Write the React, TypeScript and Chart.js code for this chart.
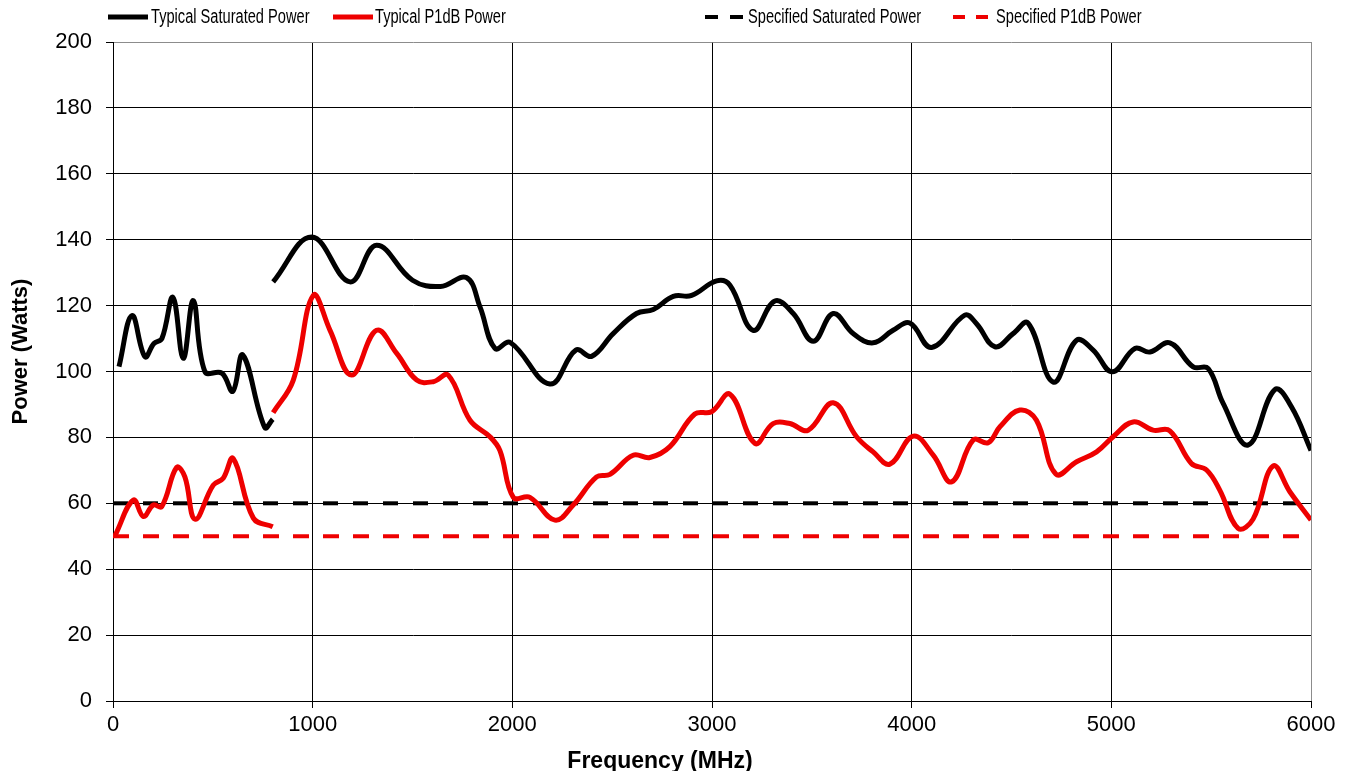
import React, { useEffect, useRef } from "react";
import { Chart, registerables } from "chart.js";

Chart.register(...registerables);

// ---------------- data ----------------
const satFreq = [
  30, 95, 160, 205, 245, 300, 352, 402, 460, 545, 600, 650, 760, 800,
  801,
  802, 995, 1187, 1320, 1500, 1640, 1770, 1838, 1913, 1990, 2188, 2318, 2397,
  2505, 2622, 2706, 2806, 2898, 3023, 3090, 3206, 3315, 3407, 3507, 3607, 3707,
  3807, 3907, 3991, 4100, 4266, 4325, 4417, 4508, 4583, 4709, 4826, 4909, 5005,
  5118, 5193, 5293, 5410, 5485, 5560, 5685, 5819, 5902, 6000,
];
const satPower = [
  101.5, 117, 104.5, 108.5, 110, 122.5, 104, 121.5, 100, 99.5, 94, 105, 83, 85.5,
  null,
  127.2, 140.8, 127.2, 138.3, 127.7, 125.8, 128.5, 119.6, 107, 108.8, 96.2, 106.5, 104.6,
  111.5, 117.6, 118.8, 122.8, 123.1, 127.5, 126.2, 112.5, 121.4, 117.6, 109.2, 117.6, 111.5,
  108.7, 112.5, 114.7, 107.3, 117.1, 114.5, 107.5, 111.5, 114.7, 96.8, 109.5, 106.5, 99.9,
  107, 105.9, 108.7, 101.4, 100.9, 90.3, 77.7, 94.5, 89.3, 76,
];

const p1dbFreq = [
  10, 102, 152, 202, 244, 319, 360, 411, 502, 552, 602, 703, 800,
  801,
  802, 903, 1003, 1087, 1195, 1320, 1421, 1521, 1604, 1679, 1788, 1888, 1938, 2005,
  2088, 2213, 2305, 2422, 2489, 2605, 2689, 2789, 2914, 2998, 3090, 3215, 3306, 3390,
  3482, 3607, 3724, 3807, 3891, 4008, 4108, 4200, 4308, 4383, 4442, 4542, 4625, 4722,
  4826, 4926, 5009, 5109, 5209, 5293, 5401, 5477, 5543, 5635, 5710, 5810, 5894, 6000,
];
const p1dbPower = [
  50.2, 61, 56, 59.5, 59, 70.9, 68, 55.2, 65.5, 67.6, 73.6, 55.5, 52.9,
  null,
  87.5, 97.4, 123.1, 112.5, 98.9, 112.5, 105.5, 97.4, 96.9, 98.9, 85.2, 80.2, 76, 61.8,
  61.8, 54.9, 59.5, 68, 68.8, 74.6, 73.9, 77.2, 87.1, 87.8, 93.1, 78.2, 84.2, 84.2,
  82.2, 90.5, 80.2, 75.6, 71.9, 80.4, 74.6, 66.5, 79.2, 78.4, 83.2, 88.3, 85.2, 68.9,
  72.6, 75.6, 80.2, 84.7, 82.2, 82, 72.1, 70.1, 64, 52.4, 55.2, 71.3, 63.5, 54.9,
];

const specFreq = [0, 6000];
const specSatPower = [60, 60];
const specP1dBPower = [50, 50];

const seriesNames = [
  "Typical Saturated Power",
  "Typical P1dB Power",
  "Specified Saturated Power",
  "Specified P1dB Power",
];
const xTitle = "Frequency (MHz)";
const yTitle = "Power (Watts)";

// ---------------- styles / layout ----------------
const W = 1353;
const H = 771;
const BLACK = "#000000";
const RED = "#ee0000";
const FONT = "'Liberation Sans', Arial, Helvetica, sans-serif";

const legendLayout = [
  { x0: 108, x1: 148, tx: 151, color: BLACK, dash: [] as number[], lw: 5 },
  { x0: 333, x1: 373, tx: 375, color: RED, dash: [] as number[], lw: 5 },
  { x0: 705, x1: 743, tx: 748, color: BLACK, dash: [13, 12], lw: 4 },
  { x0: 953, x1: 988, tx: 996, color: RED, dash: [12, 11], lw: 4 },
];

const toPoints = (xs: number[], ys: (number | null)[]) =>
  xs.map((x, i) => ({ x, y: ys[i] }));

const overlayPlugin = {
  id: "overlay",
  afterDraw(chart: any) {
    const ctx: CanvasRenderingContext2D = chart.ctx;
    ctx.save();
    // legend
    legendLayout.forEach((it, i) => {
      ctx.beginPath();
      ctx.strokeStyle = it.color;
      ctx.lineWidth = it.lw;
      ctx.setLineDash(it.dash);
      ctx.lineCap = "butt";
      ctx.moveTo(it.x0, 17);
      ctx.lineTo(it.x1, 17);
      ctx.stroke();
      ctx.setLineDash([]);
      ctx.save();
      ctx.translate(it.tx, 23);
      ctx.scale(0.75, 1);
      ctx.font = `19.5px ${FONT}`;
      ctx.fillStyle = "#000";
      ctx.textAlign = "left";
      ctx.textBaseline = "alphabetic";
      ctx.fillText(seriesNames[i], 0, 0);
      ctx.restore();
    });
    // x title
    ctx.font = `bold 23px ${FONT}`;
    ctx.fillStyle = "#000";
    ctx.textAlign = "center";
    ctx.textBaseline = "alphabetic";
    ctx.fillText(xTitle, 660, 768);
    // y title
    ctx.translate(27, 351.5);
    ctx.rotate(-Math.PI / 2);
    ctx.font = `bold 22px ${FONT}`;
    ctx.fillText(yTitle, 0, 0);
    ctx.restore();
  },
};

export default function App() {
  const ref = useRef<HTMLCanvasElement | null>(null);

  useEffect(() => {
    if (!ref.current) return;
    Chart.defaults.font.family = FONT;
    const chart = new Chart(ref.current, {
      type: "line",
      data: {
        datasets: [
          {
            label: seriesNames[0],
            data: toPoints(satFreq, satPower),
            borderColor: BLACK,
            borderWidth: 5,
            pointRadius: 0,
            tension: 0.4,
            spanGaps: false,
            fill: false,
          },
          {
            label: seriesNames[1],
            data: toPoints(p1dbFreq, p1dbPower),
            borderColor: RED,
            borderWidth: 5,
            pointRadius: 0,
            tension: 0.4,
            spanGaps: false,
            fill: false,
          },
          {
            label: seriesNames[2],
            data: toPoints(specFreq, specSatPower),
            borderColor: BLACK,
            borderWidth: 4,
            borderDash: [15, 15],
            pointRadius: 0,
            fill: false,
          },
          {
            label: seriesNames[3],
            data: toPoints(specFreq, specP1dBPower),
            borderColor: RED,
            borderWidth: 4,
            borderDash: [16, 14],
            pointRadius: 0,
            fill: false,
          },
        ],
      } as any,
      options: {
        responsive: false,
        maintainAspectRatio: false,
        animation: false,
        layout: { padding: { left: 0, right: 42, top: 42, bottom: 0 } },
        plugins: {
          legend: { display: false },
          tooltip: { enabled: false },
          title: { display: false },
        },
        scales: {
          x: {
            type: "linear",
            min: 0,
            max: 6000,
            ticks: {
              stepSize: 1000,
              color: "#000",
              font: { size: 22, family: FONT },
              padding: 4,
              maxRotation: 0,
              callback: (v: any) => String(v),
            },
            grid: {
              color: (c: any) => (c.tick && c.tick.value === 6000 ? "#8c8c8c" : "#000"),
              tickColor: "#000",
              tickLength: 7,
              lineWidth: 1,
            },
            border: { color: "#000", width: 1 },
            afterFit: (s: any) => {
              s.height = 70;
            },
          },
          y: {
            type: "linear",
            min: 0,
            max: 200,
            ticks: {
              stepSize: 20,
              color: "#000",
              font: { size: 22, family: FONT },
              padding: 14,
              callback: (v: any) => String(v),
            },
            grid: {
              color: (c: any) => (c.tick && c.tick.value === 200 ? "#8c8c8c" : "#000"),
              tickColor: "#000",
              tickLength: 7,
              lineWidth: 1,
            },
            border: { color: "#000", width: 1 },
            afterFit: (s: any) => {
              s.width = 113;
            },
          },
        },
      } as any,
      plugins: [overlayPlugin],
    });
    return () => chart.destroy();
  }, []);

  return (
    <div
      style={{
        position: "fixed",
        left: 0,
        top: 0,
        width: W,
        height: H,
        background: "#fff",
      }}
    >
      <canvas ref={ref} width={W} height={H} style={{ width: W, height: H, display: "block" }} />
    </div>
  );
}
